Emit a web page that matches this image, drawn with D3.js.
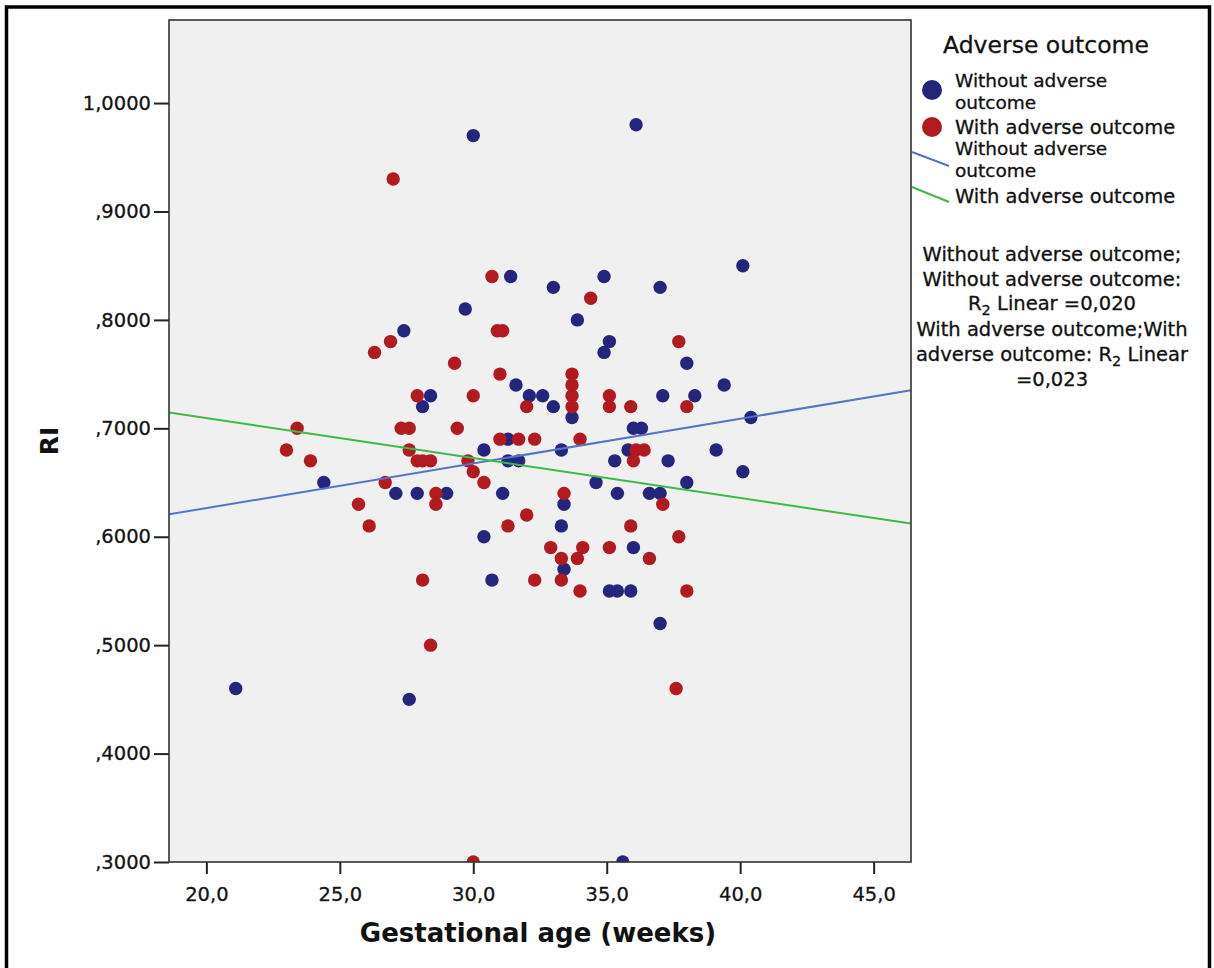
<!DOCTYPE html>
<html>
<head>
<meta charset="utf-8">
<script src="https://cdn.jsdelivr.net/npm/d3@7"></script>
<style>
  body { margin: 0; background: #fff; }
  svg { display: block; }
  text { font-family: "DejaVu Sans", "Liberation Sans", sans-serif; fill: #111; }
</style>
</head>
<body>
<svg id="chart" width="1214" height="968"></svg>
<script>
// Gestational age (weeks) and RI for each group
const withoutWeeks = [21.1, 27.6, 30.0, 36.1, 40.1, 29.7, 31.4, 33.0, 34.9, 37.0,
  27.4, 33.9, 35.1, 34.9, 38.0, 31.6, 32.1, 32.6, 33.0, 33.7,
  28.4, 28.1, 37.1, 38.3, 39.4, 40.4, 36.0, 36.3, 39.1, 40.1,
  30.4, 33.3, 31.3, 35.3, 37.3, 31.3, 31.7, 34.6, 35.4, 36.6,
  37.0, 38.0, 31.1, 33.4, 33.3, 30.4, 36.0, 24.4, 27.1, 27.9,
  29.0, 30.7, 33.4, 35.1, 35.4, 35.9, 37.0, 35.6, 35.8];
const withoutRI = [0.46, 0.45, 0.97, 0.98, 0.85, 0.81, 0.84, 0.83, 0.84, 0.83,
  0.79, 0.80, 0.78, 0.77, 0.76, 0.74, 0.73, 0.73, 0.72, 0.71,
  0.73, 0.72, 0.73, 0.73, 0.74, 0.71, 0.70, 0.70, 0.68, 0.66,
  0.68, 0.68, 0.69, 0.67, 0.67, 0.67, 0.67, 0.65, 0.64, 0.64,
  0.64, 0.65, 0.64, 0.63, 0.61, 0.60, 0.59, 0.65, 0.64, 0.64,
  0.64, 0.56, 0.57, 0.55, 0.55, 0.55, 0.52, 0.30, 0.68];

const withWeeks = [27.0, 30.7, 30.9, 31.1, 26.9, 26.3, 29.3, 31.0, 33.7, 33.7,
  33.7, 33.7, 35.1, 35.1, 35.9, 37.7, 38.0, 27.9, 30.0, 32.0,
  34.4, 23.4, 27.3, 27.6, 29.4, 23.0, 23.9, 27.6, 27.9, 28.1,
  28.4, 29.8, 30.0, 30.4, 31.0, 31.7, 32.3, 34.0, 36.1, 36.4,
  36.0, 26.7, 28.6, 28.6, 25.7, 26.1, 33.4, 37.1, 32.0, 31.3,
  35.9, 37.7, 32.9, 34.1, 35.1, 33.3, 33.9, 36.6, 28.1, 32.3,
  33.3, 34.0, 38.0, 28.4, 37.6, 30.0];
const withRI = [0.93, 0.84, 0.79, 0.79, 0.78, 0.77, 0.76, 0.75, 0.75, 0.74,
  0.73, 0.72, 0.73, 0.72, 0.72, 0.78, 0.72, 0.73, 0.73, 0.72,
  0.82, 0.70, 0.70, 0.70, 0.70, 0.68, 0.67, 0.68, 0.67, 0.67,
  0.67, 0.67, 0.66, 0.65, 0.69, 0.69, 0.69, 0.69, 0.68, 0.68,
  0.67, 0.65, 0.64, 0.63, 0.63, 0.61, 0.64, 0.63, 0.62, 0.61,
  0.61, 0.60, 0.59, 0.59, 0.59, 0.58, 0.58, 0.58, 0.56, 0.56,
  0.56, 0.55, 0.55, 0.50, 0.46, 0.30];

// Linear fit lines: [intercept, slope]
const fitWithout = [0.544, 0.00412];
const fitWith = [0.7833, -0.00369];

const xTicks = [20, 25, 30, 35, 40, 45];
const yTicks = [0.3, 0.4, 0.5, 0.6, 0.7, 0.8, 0.9, 1.0];
const groupNames = ["Without adverse outcome", "With adverse outcome"];
const r2Lines = ["Without adverse outcome;", "Without adverse outcome:", "R2 Linear =0,020",
  "With adverse outcome;With", "adverse outcome: R2 Linear", "=0,023"];

const colors = { without: "#24267c", with: "#b11a1f", lineWithout: "#5473c9", lineWith: "#3cba48" };

const svg = d3.select("#chart");
const plot = { left: 169, right: 911, top: 20, bottom: 862 };

svg.append("rect").attr("width", 1214).attr("height", 968).attr("fill", "#fff");

const x = d3.scaleLinear().domain([18.6, 46.4]).range([plot.left, plot.right]);
const y = d3.scaleLinear().domain([0.3, 1.0766]).range([plot.bottom, plot.top]);

const commaFmt = d3.formatLocale({ decimal: ",", thousands: ".", grouping: [3], currency: ["", ""] });
const fx = commaFmt.format(".1f");
const fy0 = commaFmt.format(".4f");
const fy = v => { const s = fy0(v); return s.startsWith("0,") ? s.slice(1) : s; };

// plot background
svg.append("rect")
  .attr("x", plot.left).attr("y", plot.top)
  .attr("width", plot.right - plot.left).attr("height", plot.bottom - plot.top)
  .attr("fill", "#f0f0f0");

svg.append("clipPath").attr("id", "plotClip")
  .append("rect")
  .attr("x", plot.left).attr("y", plot.top)
  .attr("width", plot.right - plot.left).attr("height", plot.bottom - plot.top);

const g = svg.append("g").attr("clip-path", "url(#plotClip)");

const withoutPts = withoutWeeks.map((w, i) => [w, withoutRI[i]]);
const withPts = withWeeks.map((w, i) => [w, withRI[i]]);

g.selectAll("circle.without").data(withoutPts).join("circle")
  .attr("class", "without")
  .attr("cx", d => x(d[0])).attr("cy", d => y(d[1])).attr("r", 6.7)
  .attr("fill", colors.without);

g.selectAll("circle.with").data(withPts).join("circle")
  .attr("class", "with")
  .attr("cx", d => x(d[0])).attr("cy", d => y(d[1])).attr("r", 6.7)
  .attr("fill", colors.with);

// fit lines across the full x range
const [x0, x1] = x.domain();
const line = d3.line().x(d => x(d[0])).y(d => y(d[1]));
[[fitWithout, colors.lineWithout], [fitWith, colors.lineWith]].forEach(([f, c]) => {
  g.append("path")
    .datum([[x0, f[0] + f[1] * x0], [x1, f[0] + f[1] * x1]])
    .attr("d", line).attr("fill", "none").attr("stroke", c).attr("stroke-width", 2);
});

// axes
const xAxis = d3.axisBottom(x).tickValues(xTicks).tickFormat(fx).tickSize(12).tickPadding(8);
const yAxis = d3.axisLeft(y).tickValues(yTicks).tickFormat(fy).tickSize(15).tickPadding(3);

const gx = svg.append("g").attr("transform", `translate(0,${plot.bottom})`).call(xAxis);
const gy = svg.append("g").attr("transform", `translate(${plot.left},0)`).call(yAxis);
[gx, gy].forEach(a => {
  a.select(".domain").remove();
  a.selectAll(".tick line").attr("stroke", "#222").attr("stroke-width", 2);
  a.selectAll(".tick text").attr("font-size", 19.5).attr("fill", "#222")
    .attr("stroke", "#222").attr("stroke-width", 0.3)
    .attr("font-family", "\"DejaVu Sans\", sans-serif");
});
gx.selectAll(".tick text").attr("dy", "0.95em");

// plot frame
svg.append("rect")
  .attr("x", plot.left).attr("y", plot.top)
  .attr("width", plot.right - plot.left).attr("height", plot.bottom - plot.top)
  .attr("fill", "none").attr("stroke", "#333").attr("stroke-width", 1.6);

// axis titles
svg.append("text")
  .attr("x", 538).attr("y", 942).attr("text-anchor", "middle")
  .attr("font-size", 26).attr("font-weight", "bold")
  .text("Gestational age (weeks)");

svg.append("text")
  .attr("transform", "translate(58,441) rotate(-90)")
  .attr("text-anchor", "middle")
  .attr("font-size", 25).attr("font-weight", "bold")
  .text("RI");

// legend
const lg = svg.append("g").attr("stroke", "#111").attr("stroke-width", 0.3);
lg.append("text").attr("x", 1046).attr("y", 53).attr("text-anchor", "middle")
  .attr("font-size", 23.5).text("Adverse outcome");

lg.append("circle").attr("cx", 932).attr("cy", 90).attr("r", 10).attr("fill", colors.without).attr("stroke", "none");
lg.append("circle").attr("cx", 932).attr("cy", 127).attr("r", 10).attr("fill", colors.with).attr("stroke", "none");

// each legend row is drawn as separate text lines
const legendText = (lines, x0, y0, step, size) => {
  lines.forEach((s, i) => lg.append("text")
    .attr("x", x0).attr("y", y0 + i * step).attr("font-size", size).text(s));
};
legendText(["Without adverse", "outcome"], 955, 87, 21.5, 18.5);
legendText([groupNames[1]], 955, 134, 0, 19.5);
legendText(["Without adverse", "outcome"], 955, 155, 21.5, 18.5);
legendText([groupNames[1]], 955, 203, 0, 19.5);

lg.append("line").attr("x1", 912).attr("y1", 152).attr("x2", 949).attr("y2", 166)
  .attr("stroke", colors.lineWithout).attr("stroke-width", 2);
lg.append("line").attr("x1", 912).attr("y1", 187).attr("x2", 949).attr("y2", 202)
  .attr("stroke", colors.lineWith).attr("stroke-width", 2);

// R-squared annotations, clipped to the legend column
svg.append("clipPath").attr("id", "legendClip")
  .append("rect").attr("x", 913).attr("y", 0).attr("width", 300).attr("height", 968);
const rg = svg.append("g").attr("clip-path", "url(#legendClip)")
  .attr("stroke", "#111").attr("stroke-width", 0.3);
const r2Base = [261, 286, 310, 336, 361, 386];
r2Lines.forEach((s, i) => {
  const t = rg.append("text").attr("x", 1052).attr("y", r2Base[i])
    .attr("text-anchor", "middle").attr("font-size", 19.5);
  const k = s.indexOf("R2");
  if (k < 0) { t.text(s); return; }
  t.append("tspan").text(s.slice(0, k) + "R");
  t.append("tspan").attr("font-size", 14.5).attr("dy", 5).text("2");
  t.append("tspan").attr("dy", -5).text(s.slice(k + 2));
});

// outer frame
svg.append("rect").attr("x", 6.5).attr("y", 7).attr("width", 1203).attr("height", 990)
  .attr("fill", "none").attr("stroke", "#000").attr("stroke-width", 3.5);
</script>
</body>
</html>
